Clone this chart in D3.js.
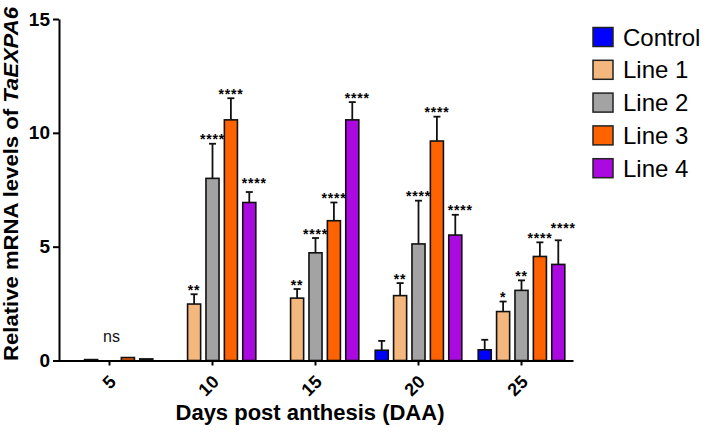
<!DOCTYPE html>
<html>
<head>
<meta charset="utf-8">
<script src="https://cdn.jsdelivr.net/npm/d3@7"></script>
<style>
	body { margin: 0; background: #fff; }
	text { font-family: Arial, 'Liberation Sans', sans-serif; }
</style>
</head>
<body>
<div id="main"></div>
<script>
// groups on the x axis and the five series
var groups = ['5', '10', '15', '20', '25'];
var series = ['Control', 'Line 1', 'Line 2', 'Line 3', 'Line 4'];
var colors = ['#0000ff', '#f4b77d', '#a3a3a3', '#ff6200', '#aa0ae0'];

// mean values
var control = [0, 0, 0, 0.45, 0.47];
var line1 = [0.04, 2.48, 2.74, 2.85, 2.15];
var line2 = [0, 8.0, 4.73, 5.12, 3.08];
var line3 = [0.13, 10.57, 6.14, 9.64, 4.57];
var line4 = [0.07, 6.94, 10.57, 5.51, 4.22];

// upper error (SD)
var controlErr = [0, 0, 0, 0.41, 0.44];
var line1Err = [0, 0.43, 0.4, 0.55, 0.44];
var line2Err = [0, 1.52, 0.65, 1.9, 0.44];
var line3Err = [0, 0.95, 0.8, 1.07, 0.62];
var line4Err = [0, 0.46, 0.78, 0.89, 1.06];

// significance marks
var controlSig = ['', '', '', '', ''];
var line1Sig = ['', '**', '**', '**', '*'];
var line2Sig = ['', '****', '****', '****', '**'];
var line3Sig = ['', '****', '****', '****', '****'];
var line4Sig = ['', '****', '****', '****', '****'];
var groupNote = ['ns', '', '', '', ''];

var yTicks = [0, 5, 10, 15];

var means = [control, line1, line2, line3, line4];
var errs = [controlErr, line1Err, line2Err, line3Err, line4Err];
var sigs = [controlSig, line1Sig, line2Sig, line3Sig, line4Sig];

var rows = [];
series.forEach(function(s, i){
	groups.forEach(function(g, j){
		rows.push({series: s, group: g, color: colors[i], value: means[i][j], err: errs[i][j], sig: sigs[i][j]});
	});
});

var svgWidth = 709, svgHeight = 438;
var svg = d3.select('#main').append('svg')
			.attr('width', svgWidth)
			.attr('height', svgHeight);

var x0 = d3.scaleBand().domain(groups).range([58, 573]);
var x1 = d3.scaleBand().domain(series).range([0, x0.bandwidth()])
			.paddingInner(0.29).paddingOuter(0.445);
var y = d3.scaleLinear().domain([0, 15]).range([360.5, 19]);

// label nudges so the Line 4 marks don't collide
var nudge = {'Line 4': 5};
var lift = {'10|Line 4': 5, '25|Line 4': 8};

// bars
svg.append('g').selectAll('rect')
	.data(rows.filter(function(d){ return d.value > 0; }))
	.enter()
	.append('rect')
	.attr('x', function(d){ return x0(d.group) + x1(d.series); })
	.attr('y', function(d){ return y(d.value); })
	.attr('width', x1.bandwidth())
	.attr('height', function(d){ return y(0) - y(d.value); })
	.style('fill', function(d){ return d.color; })
	.style('stroke', '#111')
	.style('stroke-width', 1.6);

// error bars (upper only)
var eb = svg.append('g').selectAll('g')
	.data(rows.filter(function(d){ return d.err > 0; }))
	.enter()
	.append('g')
	.style('stroke', '#111')
	.style('stroke-width', 1.8);

eb.append('line')
	.attr('x1', function(d){ return x0(d.group) + x1(d.series) + x1.bandwidth() / 2; })
	.attr('x2', function(d){ return x0(d.group) + x1(d.series) + x1.bandwidth() / 2; })
	.attr('y1', function(d){ return y(d.value); })
	.attr('y2', function(d){ return y(d.value + d.err); });

eb.append('line')
	.attr('x1', function(d){ return x0(d.group) + x1(d.series) + x1.bandwidth() / 2 - 3.5; })
	.attr('x2', function(d){ return x0(d.group) + x1(d.series) + x1.bandwidth() / 2 + 3.5; })
	.attr('y1', function(d){ return y(d.value + d.err); })
	.attr('y2', function(d){ return y(d.value + d.err); });

// significance text
svg.append('g').selectAll('text')
	.data(rows.filter(function(d){ return d.sig != ''; }))
	.enter()
	.append('text')
	.attr('x', function(d){ return x0(d.group) + x1(d.series) + x1.bandwidth() / 2 + (nudge[d.series] || 0); })
	.attr('y', function(d){ return y(d.value + d.err) + 0.5 - (lift[d.group + '|' + d.series] || 0); })
	.attr('text-anchor', 'middle')
	.style('font-size', '14px')
	.style('font-weight', 'bold')
	.style('letter-spacing', '0.8px')
	.style('fill', '#000')
	.text(function(d){ return d.sig; });

svg.append('g').selectAll('text')
	.data(groups.filter(function(g, i){ return groupNote[i] != ''; }))
	.enter()
	.append('text')
	.attr('x', function(g){ return x0(g) + x0.bandwidth() / 2 + 2; })
	.attr('y', 342)
	.attr('text-anchor', 'middle')
	.style('font-size', '16px')
	.style('fill', '#111')
	.text(function(g){ return groupNote[groups.indexOf(g)]; });

// axes
var yAxis = svg.append('g')
	.attr('transform', 'translate(59,0)')
	.call(d3.axisLeft(y).tickValues(yTicks).tickSize(6).tickSizeOuter(0).tickPadding(3));
yAxis.selectAll('text').style('font-size', '19px').style('font-weight', 'bold').style('fill', '#000');

var xAxis = svg.append('g')
	.attr('transform', 'translate(0,360.5)')
	.call(d3.axisBottom(x0).tickSize(5).tickSizeOuter(0));
xAxis.selectAll('text')
	.attr('text-anchor', 'end')
	.attr('x', 0).attr('y', 0).attr('dy', '0.35em')
	.attr('transform', 'translate(3,18) rotate(-45)')
	.style('font-size', '18px').style('font-weight', 'bold').style('fill', '#000');

svg.selectAll('.domain, .tick line').style('stroke', '#000').style('stroke-width', 2);

// axis titles
svg.append('text')
	.attr('x', 310)
	.attr('y', 420)
	.attr('text-anchor', 'middle')
	.style('font-size', '22px')
	.style('font-weight', 'bold')
	.text('Days post anthesis (DAA)');

var yTitle = svg.append('text')
	.attr('text-anchor', 'middle')
	.style('font-size', '20px')
	.style('font-weight', 'bold');
yTitle.append('tspan').text('Relative mRNA levels of ');
yTitle.append('tspan').style('font-style', 'italic').text('TaEXPA6');
var tw = yTitle.node().getComputedTextLength();
yTitle.attr('transform', 'translate(18,184) rotate(-90) scale(' + (354 / tw) + ',1)');

// legend
var legend = svg.append('g').selectAll('g')
	.data(series)
	.enter()
	.append('g')
	.attr('transform', function(d, i){ return 'translate(593,' + (27.5 + i * 32.8) + ')'; });

legend.append('rect')
	.attr('width', 20)
	.attr('height', 19)
	.style('fill', function(d, i){ return colors[i]; })
	.style('stroke', '#222')
	.style('stroke-width', 1.5);

legend.append('text')
	.attr('x', 30)
	.attr('y', 18)
	.style('font-size', '24px')
	.style('fill', '#000')
	.text(function(d){ return d; });
</script>
</body>
</html>
